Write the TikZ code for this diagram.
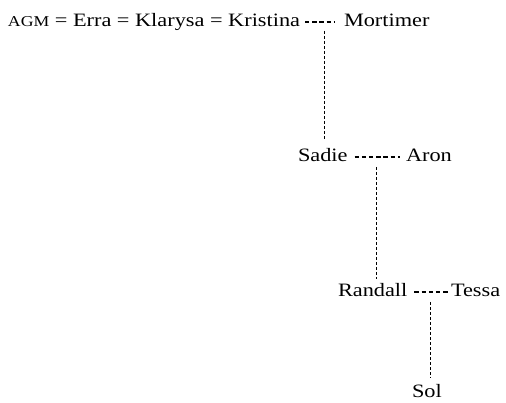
\documentclass[tikz,border=0pt]{standalone}
\usepackage{fontspec}
\setmainfont{Liberation Serif}[FakeStretch=1.18]
\usetikzlibrary{calc}

\begin{document}
\begin{tikzpicture}[x=1pt, y=1pt,
  person/.style={inner sep=0pt, outer sep=0pt, text=black,
                 font=\fontsize{18.9}{22}\selectfont},
  hline/.style={draw=black, line width=1.1pt, dash pattern=on 4.4pt off 2.8pt},
  vline/.style={draw=black, line width=1pt, dash pattern=on 3pt off 2pt}]

  \useasboundingbox (0,0) rectangle (506,-403);

  % people
  \node[person, anchor=base west] (top) at (8,-27)
    {{\fontsize{15}{18}\selectfont AGM} = Erra = Klarysa = Kristina};
  \node[person, anchor=base west] (mort)    at (344,-27)  {Mortimer};
  \node[person, anchor=base west] (sadie)   at (298,-162) {Sadie};
  \node[person, anchor=base west] (aron)    at (406,-162) {Aron};
  \node[person, anchor=base west] (randall) at (338,-297) {Randall};
  \node[person, anchor=base west] (tessa)   at (451,-297) {Tessa};
  \node[person, anchor=base west] (sol)     at (412,-397) {Sol};

  % couples
  \draw[hline] ($(top.base east)+(5,5)$)     -- ($(mort.base west)+(-10,5)$);
  \draw[hline] ($(sadie.base east)+(7,5)$)   -- ($(aron.base west)+(-6,5)$);
  \draw[hline] ($(randall.base east)+(7,5)$) -- ($(tessa.base west)+(-1,5)$);

  % descent lines
  \coordinate (j1) at ($(mort.base west)+(-20,-4)$);
  \coordinate (e1) at ($(sadie.base)+(0,22)$);
  \draw[vline] (j1) -- (j1 |- e1);

  \coordinate (j2) at ($(aron.base west)+(-30,-5)$);
  \coordinate (e2) at ($(randall.base)+(0,18)$);
  \draw[vline] (j2) -- (j2 |- e2);

  \coordinate (j3) at ($(tessa.base west)+(-21,-5)$);
  \coordinate (e3) at ($(sol.base)+(0,19)$);
  \draw[vline] (j3) -- (j3 |- e3);
\end{tikzpicture}
\end{document}
